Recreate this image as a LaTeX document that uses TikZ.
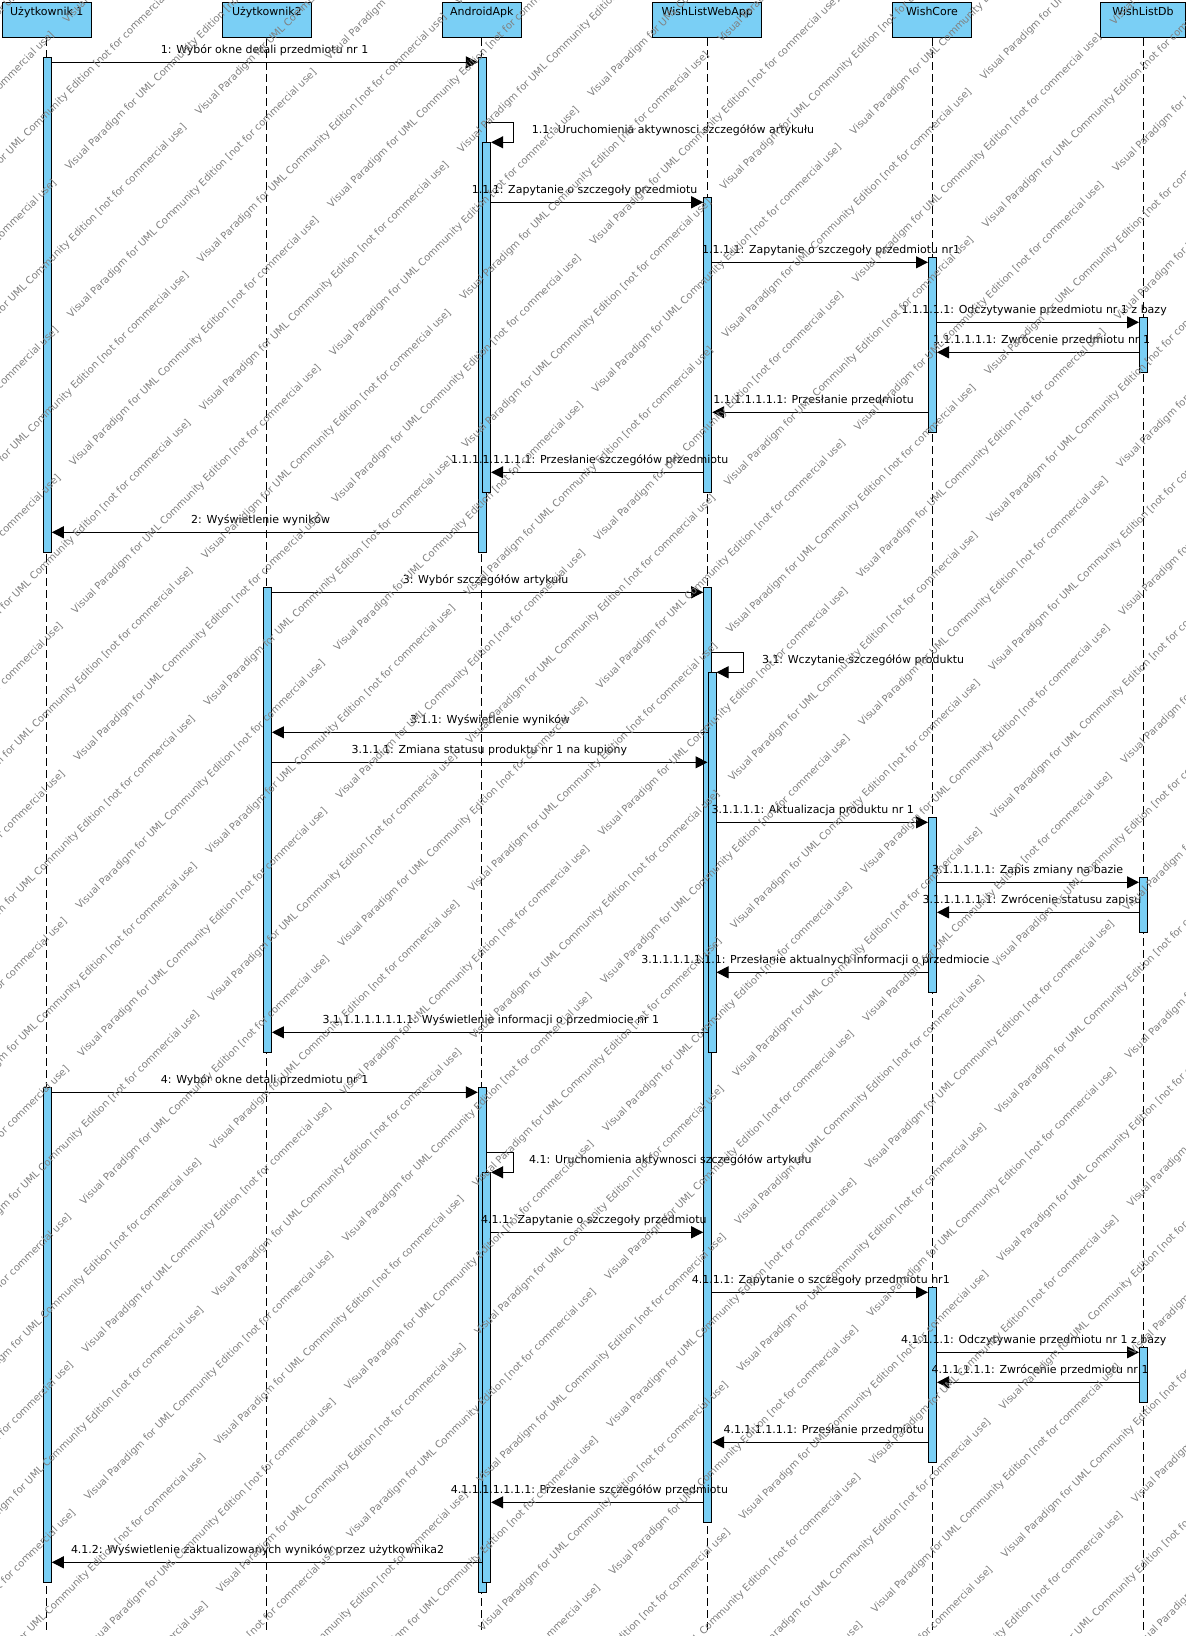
\documentclass[tikz,border=0pt]{standalone}
\usepackage{fontspec}
\setmainfont{DejaVu Sans}
\usepackage{xcolor}
\usepackage{tikz}
\usetikzlibrary{arrows.meta}
\definecolor{vpblue}{RGB}{122,207,245}

\begin{document}
\begin{tikzpicture}[
  x=1pt, y=-1pt,
  font=\fontsize{11pt}{13pt}\selectfont,
  head/.style={draw, line width=1pt, fill=vpblue, anchor=north, inner sep=0pt, minimum height=35pt, text height=12.2pt, text depth=22.8pt},
  bar/.style={draw, line width=1pt, fill=vpblue, anchor=north, inner sep=0pt, minimum width=8pt},
  life/.style={line width=1pt, dash pattern=on 8pt off 4pt},
  msg/.style={-{Triangle[length=12pt,width=12pt]}, line width=1pt},
  lab/.style={anchor=base west, inner sep=0pt},
  wmark/.style={anchor=west, rotate=45, inner sep=0pt, text=black!50, font=\fontsize{10pt}{12pt}\selectfont}]

\fill[white] (0,0) rectangle (1186,1636);
\useasboundingbox (0,0) rectangle (1186,1636);

\node[head, minimum width=89.5pt] (u1) at (46.8,2.3) {Użytkownik 1};
\node[head, minimum width=88.4pt] (u2) at (266.9,2.3) {Użytkownik2};
\node[head, minimum width=78.8pt] (apk) at (481.8,2.3) {AndroidApk};
\node[head, minimum width=109pt] (web) at (707.2,2.3) {WishListWebApp};
\node[head, minimum width=79.3pt] (core) at (932,2.3) {WishCore};
\node[head, minimum width=85pt] (db) at (1143,2.3) {WishListDb};

\draw[life] (u1.south) -- (u1.south |- 0,1630);
\draw[life] (u2.south) -- (u2.south |- 0,1630);
\draw[life] (apk.south) -- (apk.south |- 0,1630);
\draw[life] (web.south) -- (web.south |- 0,1630);
\draw[life] (core.south) -- (core.south |- 0,1630);
\draw[life] (db.south) -- (db.south |- 0,1630);

\node[bar, minimum height=495pt] (u1a) at (47.3,57.3) {};
\node[bar, minimum height=495pt] (u1b) at (47.3,1087.3) {};
\node[bar, minimum height=465pt] (u2a) at (267.4,587.3) {};
\node[bar, minimum height=495pt] (apka) at (482.3,57.3) {};
\node[bar, minimum height=350pt] (apkb) at (486.6,142.3) {};
\node[bar, minimum height=505pt] (apkc) at (482.3,1087.3) {};
\node[bar, minimum height=410pt] (apkd) at (486.6,1172.3) {};
\node[bar, minimum height=295pt] (weba) at (707.7,197.3) {};
\node[bar, minimum height=935pt] (webb) at (707.7,587.3) {};
\node[bar, minimum height=380pt] (webc) at (712,672.3) {};
\node[bar, minimum height=175pt] (corea) at (932.5,257.3) {};
\node[bar, minimum height=175pt] (coreb) at (932.5,817.3) {};
\node[bar, minimum height=175pt] (corec) at (932.5,1287.3) {};
\node[bar, minimum height=55pt] (dba) at (1143.5,317.3) {};
\node[bar, minimum height=55pt] (dbb) at (1143.5,877.3) {};
\node[bar, minimum height=55pt] (dbc) at (1143.5,1347.3) {};

\draw[msg] (u1a.east |- 0,62.3) -- (apka.west |- 0,62.3);
\draw[msg] (apka.east |- 0,122.3) -- ++(26.4,0) |- (apkb.east |- 0,142.3);
\draw[msg] (apkb.east |- 0,202.3) -- (weba.west |- 0,202.3);
\draw[msg] (weba.east |- 0,262.3) -- (corea.west |- 0,262.3);
\draw[msg] (corea.east |- 0,322.3) -- (dba.west |- 0,322.3);
\draw[msg] (dba.west |- 0,352.3) -- (corea.east |- 0,352.3);
\draw[msg] (corea.west |- 0,412.3) -- (weba.east |- 0,412.3);
\draw[msg] (weba.west |- 0,472.3) -- (apkb.east |- 0,472.3);
\draw[msg] (apka.west |- 0,532.3) -- (u1a.east |- 0,532.3);
\draw[msg] (u2a.east |- 0,592.3) -- (webb.west |- 0,592.3);
\draw[msg] (webb.east |- 0,652.3) -- ++(30.8,0) |- (webc.east |- 0,672.3);
\draw[msg] (webc.west |- 0,732.3) -- (u2a.east |- 0,732.3);
\draw[msg] (u2a.east |- 0,762.3) -- (webc.west |- 0,762.3);
\draw[msg] (webc.east |- 0,822.3) -- (coreb.west |- 0,822.3);
\draw[msg] (coreb.east |- 0,882.3) -- (dbb.west |- 0,882.3);
\draw[msg] (dbb.west |- 0,912.3) -- (coreb.east |- 0,912.3);
\draw[msg] (coreb.west |- 0,972.3) -- (webc.east |- 0,972.3);
\draw[msg] (webc.west |- 0,1032.3) -- (u2a.east |- 0,1032.3);
\draw[msg] (u1b.east |- 0,1092.3) -- (apkc.west |- 0,1092.3);
\draw[msg] (apkc.east |- 0,1152.3) -- ++(26.4,0) |- (apkd.east |- 0,1172.3);
\draw[msg] (apkd.east |- 0,1232.3) -- (webb.west |- 0,1232.3);
\draw[msg] (webb.east |- 0,1292.3) -- (corec.west |- 0,1292.3);
\draw[msg] (corec.east |- 0,1352.3) -- (dbc.west |- 0,1352.3);
\draw[msg] (dbc.west |- 0,1382.3) -- (corec.east |- 0,1382.3);
\draw[msg] (corec.west |- 0,1442.3) -- (webb.east |- 0,1442.3);
\draw[msg] (webb.west |- 0,1502.3) -- (apkd.east |- 0,1502.3);
\draw[msg] (apkd.west |- 0,1562.3) -- (u1b.east |- 0,1562.3);

\node[lab] (l1) at (160.7,53.3) {1: Wybór okne detali przedmiotu nr 1};
\node[lab] (l11) at (531.7,133.3) {1.1: Uruchomienia aktywnosci szczegółów artykułu};
\node[lab] (l111) at (471.7,193.3) {1.1.1: Zapytanie o szczegoły przedmiotu};
\node[lab] (l1111) at (702,253.3) {1.1.1.1: Zapytanie o szczegoły przedmiotu nr1};
\node[lab] (l11111) at (901.3,313.3) {1.1.1.1.1: Odczytywanie przedmiotu nr 1 z bazy};
\node[lab] (l111111) at (933,343.3) {1.1.1.1.1.1: Zwrócenie przedmiotu nr 1};
\node[lab] (l1111111) at (713.2,403.3) {1.1.1.1.1.1.1: Przesłanie przedmiotu};
\node[lab] (l11111111) at (451,463.3) {1.1.1.1.1.1.1.1: Przesłanie szczegółów przedmiotu};
\node[lab] (l2) at (191,523.3) {2: Wyświetlenie wyników};
\node[lab] (l3) at (402.6,583.3) {3: Wybór szczegółów artykułu};
\node[lab] (l31) at (761.8,663.3) {3.1: Wczytanie szczegółów produktu};
\node[lab] (l311) at (410,723.3) {3.1.1: Wyświetlenie wyników};
\node[lab] (l3111) at (351.5,753.3) {3.1.1.1: Zmiana statusu produktu nr 1 na kupiony};
\node[lab] (l31111) at (711.4,813.3) {3.1.1.1.1: Aktualizacja produktu nr 1};
\node[lab] (l311111) at (931.8,873.3) {3.1.1.1.1.1: Zapis zmiany na bazie};
\node[lab] (l3111111) at (922.5,903.3) {3.1.1.1.1.1.1: Zwrócenie statusu zapisu};
\node[lab] (l31111111) at (641.1,963.3) {3.1.1.1.1.1.1.1: Przesłanie aktualnych informacji o przedmiocie};
\node[lab] (l311111111) at (322.3,1023.3) {3.1.1.1.1.1.1.1.1: Wyświetlenie informacji o przedmiocie nr 1};
\node[lab] (l4) at (160.7,1083.3) {4: Wybór okne detali przedmiotu nr 1};
\node[lab] (l41) at (529,1163.3) {4.1: Uruchomienia aktywnosci szczegółów artykułu};
\node[lab] (l411) at (481,1223.3) {4.1.1: Zapytanie o szczegoły przedmiotu};
\node[lab] (l4111) at (691.6,1283.3) {4.1.1.1: Zapytanie o szczegoły przedmiotu nr1};
\node[lab] (l41111) at (901,1343.3) {4.1.1.1.1: Odczytywanie przedmiotu nr 1 z bazy};
\node[lab] (l411111) at (931.5,1373.3) {4.1.1.1.1.1: Zwrócenie przedmiotu nr 1};
\node[lab] (l4111111) at (723.3,1433.3) {4.1.1.1.1.1.1: Przesłanie przedmiotu};
\node[lab] (l41111111) at (450.6,1493.3) {4.1.1.1.1.1.1.1: Przesłanie szczegółów przedmiotu};
\node[lab] (l412) at (70.8,1553.3) {4.1.2: Wyświetlenie zaktualizowanych wyników przez użytkownika2};

\begin{scope}
\clip (0,0) rectangle (1186,1636);
\foreach \r [evaluate=\r as \sh using {mod(\r*131,365)}] in {0,...,38}
  \foreach \c in {0,...,7} {
    \pgfmathsetmacro\wt{-1560+\c*365+\sh}
    \pgfmathsetmacro\ws{\r*53+8}
    \node[wmark] (w\r-\c) at ({(\ws+\wt)*0.7071},{(\ws-\wt)*0.7071}) {Visual Paradigm for UML Community Edition [not for commercial use]};
  }
\end{scope}
\end{tikzpicture}
\end{document}
